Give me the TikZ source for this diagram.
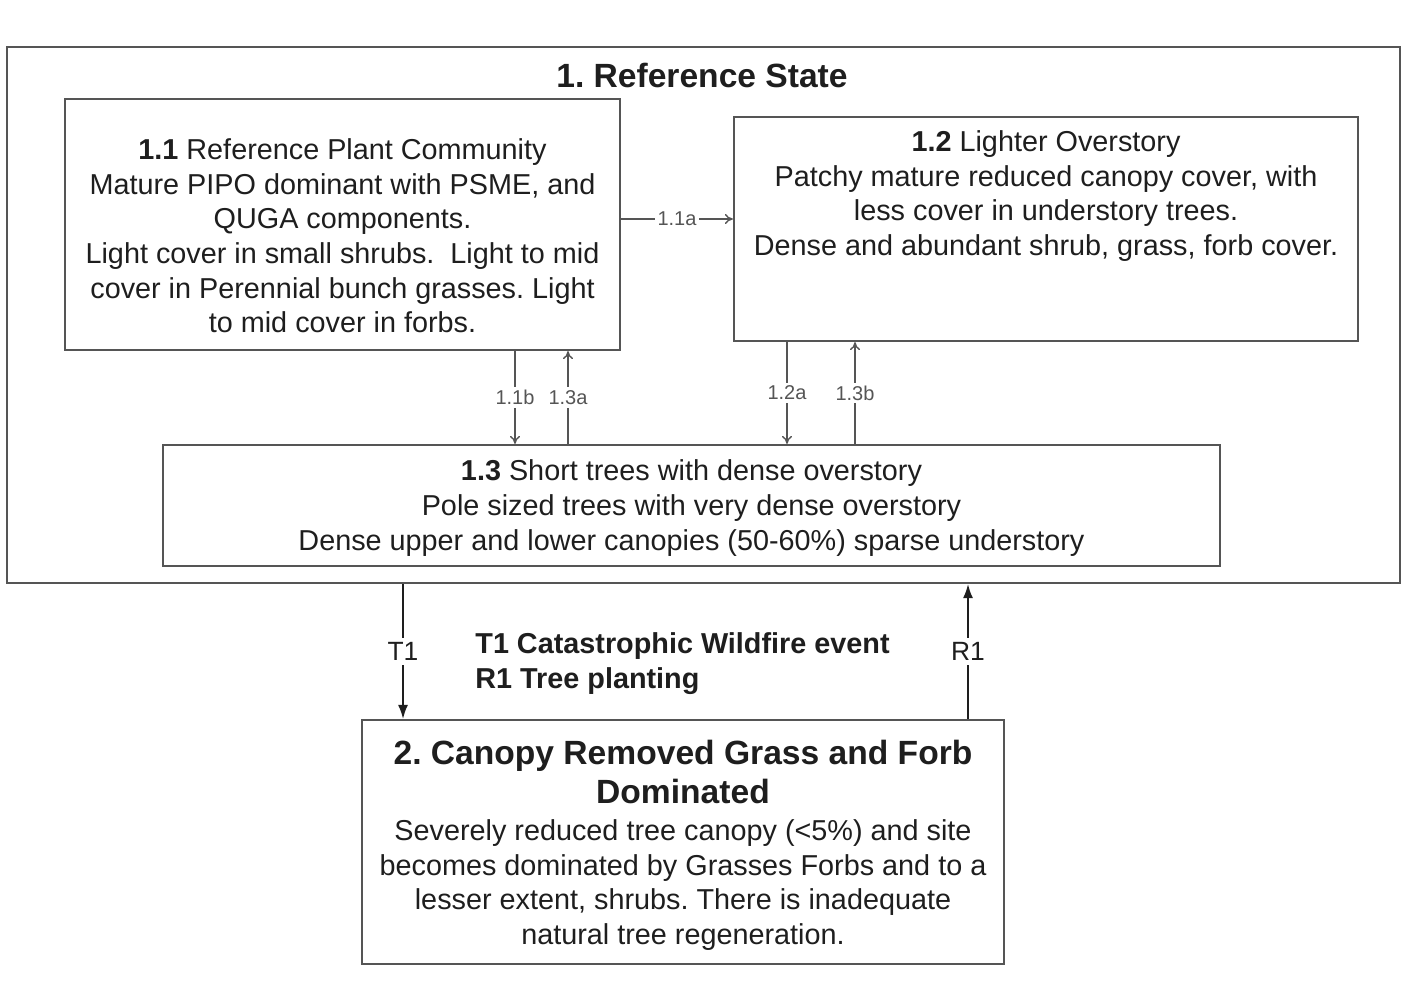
\documentclass[tikz,border=0pt]{standalone}
\usepackage{fontspec}
\setmainfont{Liberation Sans}
\usetikzlibrary{arrows.meta}
\definecolor{linecol}{HTML}{555555}
\definecolor{txtcol}{HTML}{1E1E1E}
\tikzset{
  box/.style={draw=linecol, line width=1.1pt, fill=none, inner sep=0pt},
  txt/.style={align=center, inner sep=0pt, text=txtcol, font=\fontsize{14.4pt}{17.3pt}\selectfont},
  ttl/.style={align=center, inner sep=0pt, text=txtcol, font=\fontsize{16.8pt}{19.5pt}\selectfont\bfseries},
  small/.style={fill=white, inner sep=1.5pt, text=linecol, font=\fontsize{10pt}{12pt}\selectfont},
  trlab/.style={fill=white, inner sep=2pt, text=txtcol, font=\fontsize{13.2pt}{15pt}\selectfont},
  thin/.style={draw=linecol, line width=0.7pt, -{To[length=4pt,width=5pt]}},
  thick/.style={draw=txtcol, line width=0.8pt, -{Latex[length=7pt,width=5pt]}}
}
\begin{document}
\frenchspacing
\begin{tikzpicture}[x=0.5pt,y=-0.5pt]
\useasboundingbox (0,0) rectangle (1423,985);
% boxes
\node[box, minimum width=696.5pt, minimum height=268pt] (outer) at (703.5,315) {};
\node[box, minimum width=277.5pt, minimum height=125.5pt] (b11) at (342.5,224.5) {};
\node[box, minimum width=312pt, minimum height=112pt] (b12) at (1046,229) {};
\node[box, minimum width=528.5pt, minimum height=60.5pt] (b13) at (691.5,505.5) {};
\node[box, minimum width=321pt, minimum height=122pt] (b2) at (683,842) {};
% texts
\node[ttl] (t1) at (702,75) {1. Reference State};
\node[txt] (t11) at (342.5,236) {\textbf{1.1} Reference Plant Community\\Mature PIPO dominant with PSME, and\\QUGA components.\\Light cover in small shrubs.\ \ Light to mid\\cover in Perennial bunch grasses. Light\\to mid cover in forbs.};
\node[txt] (t12) at (1046,196) {\textbf{1.2} Lighter Overstory\\Patchy mature reduced canopy cover, with\\less cover in understory trees.\\Dense and abundant shrub, grass, forb cover.};
\node[txt] (t13) at (691.5,508) {\textbf{1.3} Short trees with dense overstory\\Pole sized trees with very dense overstory\\Dense upper and lower canopies (50-60\%) sparse understory};
\node[ttl] (t2a) at (683,772) {2. Canopy Removed Grass and Forb\\Dominated};
\node[txt, font=\fontsize{14.4pt}{17.4pt}\selectfont] (t2b) at (683,885) {Severely reduced tree canopy (<5\%) and site\\becomes dominated by Grasses Forbs and to a\\lesser extent, shrubs. There is inadequate\\natural tree regeneration.};
\node[align=left, anchor=west, inner sep=0pt, text=txtcol, font=\fontsize{14.4pt}{17.5pt}\selectfont\bfseries] (legend) at (475,664) {T1 Catastrophic Wildfire event\\R1 Tree planting};
% connector guide coordinates
\coordinate (ya) at (0,219);
\coordinate (x11b) at (515,0);
\coordinate (x13a) at (568,0);
\coordinate (x12a) at (787,0);
\coordinate (x13b) at (855,0);
\coordinate (xT) at (403,0);
\coordinate (xR) at (968,0);
% connectors
\draw[thin] (b11.east |- ya) -- node[small] {1.1a} (b12.west |- ya);
\draw[thin] (b11.south -| x11b) -- node[small] {1.1b} (b13.north -| x11b);
\draw[thin] (b13.north -| x13a) -- node[small] {1.3a} (b11.south -| x13a);
\draw[thin] (b12.south -| x12a) -- node[small] {1.2a} (b13.north -| x12a);
\draw[thin] (b13.north -| x13b) -- node[small] {1.3b} (b12.south -| x13b);
\draw[thick] (outer.south -| xT) -- node[trlab] {T1} (b2.north -| xT);
\draw[thick] (b2.north -| xR) -- node[trlab] {R1} (outer.south -| xR);
\end{tikzpicture}
\end{document}
